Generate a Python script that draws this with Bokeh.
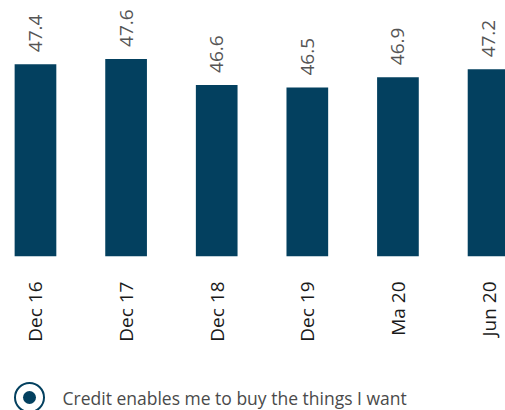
from math import pi
from bokeh.plotting import figure
from bokeh.layouts import column
from bokeh.models import Range1d, FixedTicker, ColumnDataSource
from bokeh.embed import file_html
from bokeh.resources import INLINE
from bokeh.core.properties import value

categories = ["Dec 16", "Dec 17", "Dec 18", "Dec 19", "Ma 20", "Jun 20"]
values = [47.4, 47.6, 46.6, 46.5, 46.9, 47.2]
value_labels = ["47.4", "47.6", "46.6", "46.5", "46.9", "47.2"]
legend_label = "Credit enables me to buy the things I want"

BAR = "#03405f"
FONT = "Open Sans"

xs = list(range(len(categories)))
src = ColumnDataSource(dict(x=xs, top=values, lab=value_labels))

p = figure(width=505, height=350, output_backend="svg", toolbar_location=None,
           x_range=Range1d(-0.386, 5.187), y_range=Range1d(40, 49.85),
           y_axis_location=None, min_border_left=0, min_border_right=0,
           min_border_top=0, min_border_bottom=94)
p.outline_line_color = None
p.xgrid.visible = False
p.ygrid.visible = False
p.vbar(x="x", top="top", bottom=40, width=0.46, source=src,
       fill_color=BAR, line_color=None)
p.text(x="x", y="top", text="lab", source=src, angle=pi / 2, y_offset=-12,
       text_align="left", text_baseline="middle", text_font=value(FONT),
       text_font_size="19px", text_color="#555555")

ax = p.xaxis[0]
ax.ticker = FixedTicker(ticks=xs)
ax.major_label_overrides = {i: c for i, c in zip(xs, categories)}
ax.major_label_orientation = pi / 2
ax.axis_line_color = None
ax.major_tick_line_color = None
ax.major_tick_out = 0
ax.major_tick_in = 0
ax.minor_tick_line_color = None
ax.major_label_standoff = 25
ax.major_label_text_font = FONT
ax.major_label_text_font_size = "19px"
ax.major_label_text_color = "#1a1a1a"

lg = figure(width=505, height=60, output_backend="svg", toolbar_location=None,
            x_range=Range1d(0, 505), y_range=Range1d(0, 60),
            x_axis_location=None, y_axis_location=None,
            min_border=0)
lg.outline_line_color = None
lg.xgrid.visible = False
lg.ygrid.visible = False
lg.scatter(x=[29], y=[13], size=29, fill_color=None, line_color=BAR, line_width=2)
lg.scatter(x=[29], y=[13], size=13, fill_color=BAR, line_color=None)
lg.text(x=[62], y=[13], text=[legend_label], text_align="left",
        text_baseline="middle", text_font=value(FONT), text_font_size="17.5px",
        text_color="#4a4a4a")

layout = column(p, lg, spacing=0)
open("out.html", "w").write(file_html(layout, INLINE))
